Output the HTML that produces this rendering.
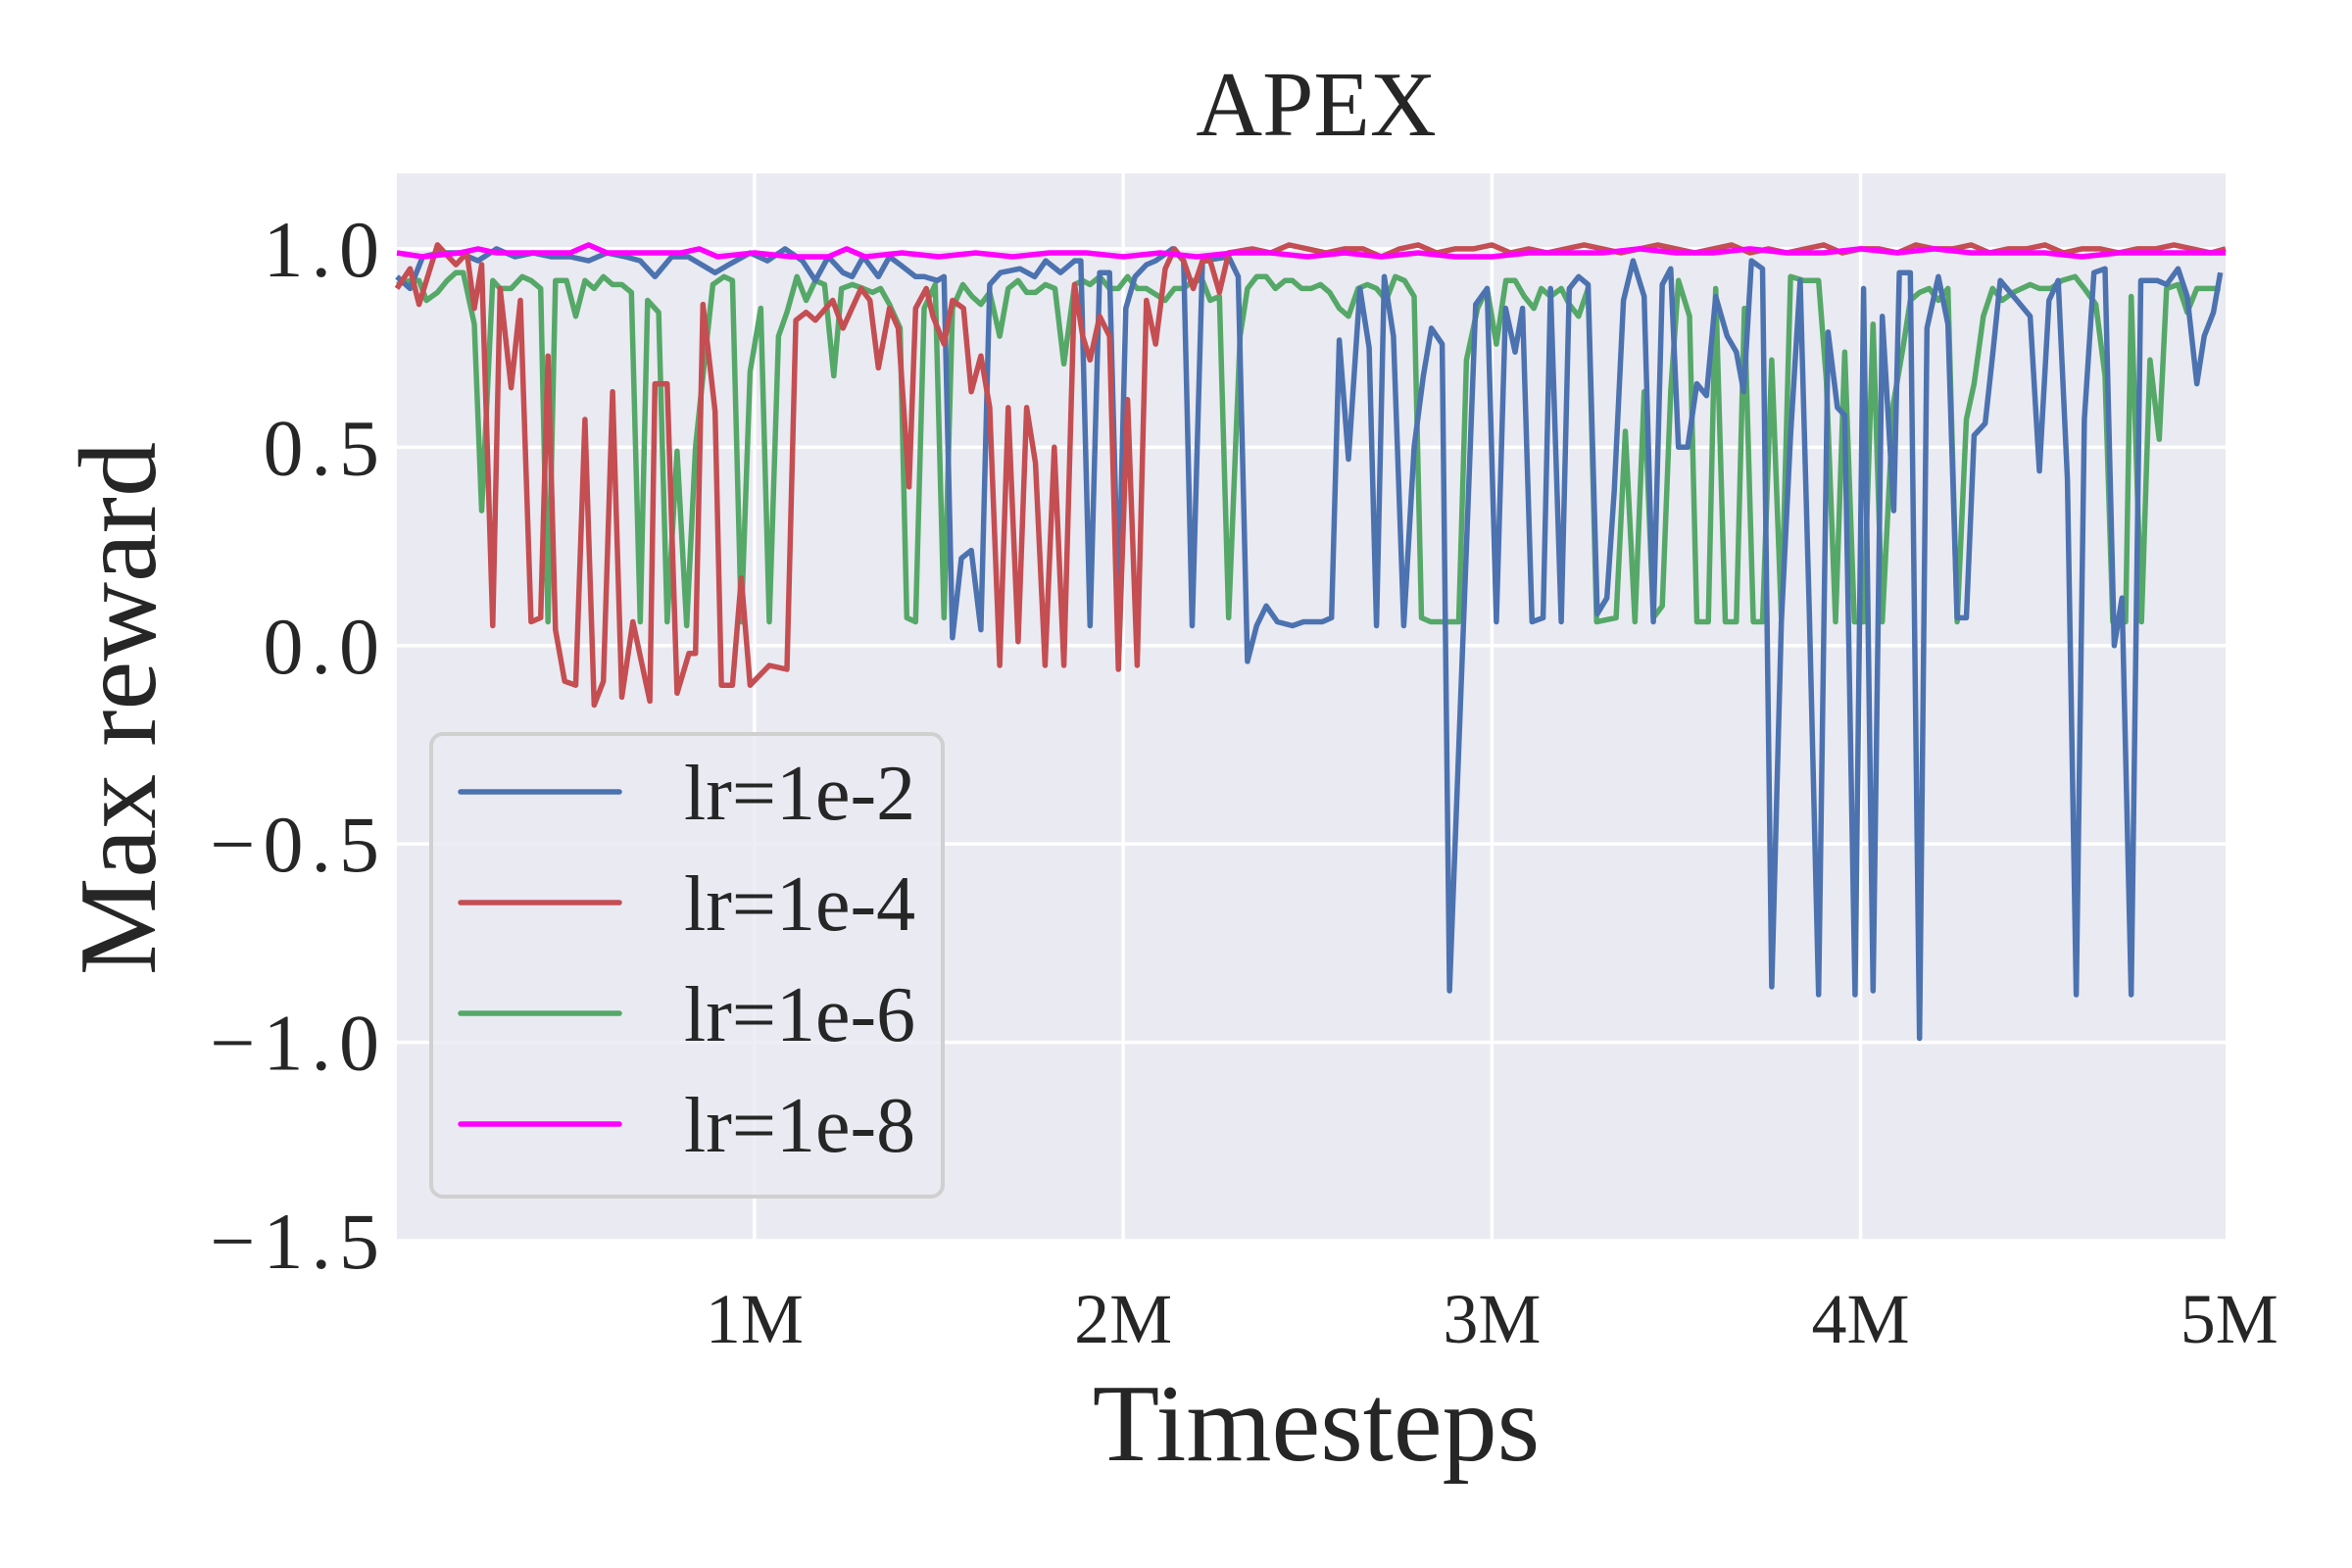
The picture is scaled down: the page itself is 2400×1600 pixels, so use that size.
<!DOCTYPE html>
<html><head><meta charset="utf-8"><style>
html,body{margin:0;padding:0;background:#fff;}
svg{display:block;}
text{font-family:"Liberation Serif","Times New Roman",serif;fill:#262626;}
</style></head>
<body>
<svg id="chart" width="2400" height="1600" viewBox="0 0 2400 1600" xmlns="http://www.w3.org/2000/svg">
<rect x="405" y="177" width="1866" height="1089" fill="#eaeaf2"/>
<g id="grid"></g>
<g id="series"></g>
<g id="ticks"></g>
<text x="1343" y="138" font-size="94" text-anchor="middle">APEX</text>
<text x="1343" y="1490" font-size="112" text-anchor="middle">Timesteps</text>
<text x="0" y="0" font-size="112" text-anchor="middle" transform="translate(158,723) rotate(-90)">Max reward</text>
<g id="legend"></g>
</svg>
<script>
const xTicks=[1,2,3,4,5];
const xTickLabels=["1M","2M","3M","4M","5M"];
const yTicks=[-1.5,-1.0,-0.5,0.0,0.5,1.0];
const yTickLabels=["\u22121.5","\u22121.0","\u22120.5","0.0","0.5","1.0"];
const seriesNames=["lr=1e-2","lr=1e-4","lr=1e-6","lr=1e-8"];
const blueX=[0.03,0.066,0.1,0.15,0.2,0.25,0.3,0.35,0.4,0.45,0.5,0.55,0.6,0.65,0.69,0.73,0.775,0.82,0.893,0.93,0.988,1.035,1.083,1.13,1.165,1.2,1.24,1.265,1.295,1.336,1.366,1.395,1.437,1.46,1.496,1.514,1.537,1.561,1.588,1.614,1.638,1.667,1.72,1.76,1.79,1.83,1.868,1.885,1.91,1.936,1.963,1.987,2.007,2.032,2.063,2.088,2.134,2.164,2.187,2.215,2.286,2.312,2.337,2.362,2.388,2.418,2.459,2.489,2.54,2.565,2.586,2.611,2.642,2.667,2.687,2.708,2.733,2.761,2.789,2.814,2.836,2.865,2.885,2.956,2.987,3.012,3.037,3.063,3.083,3.109,3.139,3.159,3.188,3.21,3.235,3.261,3.286,3.312,3.332,3.357,3.383,3.413,3.438,3.462,3.485,3.506,3.531,3.556,3.582,3.607,3.638,3.663,3.683,3.704,3.734,3.759,3.785,3.81,3.836,3.861,3.886,3.912,3.937,3.957,3.985,4.008,4.034,4.059,4.09,4.105,4.135,4.16,4.18,4.211,4.237,4.262,4.287,4.308,4.338,4.358,4.379,4.424,4.46,4.485,4.511,4.536,4.561,4.585,4.607,4.633,4.663,4.688,4.709,4.734,4.76,4.78,4.805,4.83,4.861,4.886,4.912,4.932,4.957,4.976];
const blueY=[0.93,0.9,0.98,0.99,0.99,0.97,1.0,0.98,0.99,0.98,0.98,0.97,0.99,0.98,0.97,0.93,0.98,0.98,0.94,0.96,0.99,0.97,1.0,0.97,0.92,0.98,0.94,0.93,0.98,0.93,0.98,0.96,0.93,0.93,0.92,0.93,0.02,0.22,0.24,0.04,0.91,0.94,0.95,0.93,0.97,0.94,0.97,0.97,0.05,0.94,0.94,0.1,0.85,0.93,0.96,0.97,1.0,0.97,0.05,0.97,0.98,0.93,-0.04,0.05,0.1,0.06,0.05,0.06,0.06,0.07,0.77,0.47,0.9,0.75,0.05,0.93,0.78,0.05,0.5,0.68,0.8,0.76,-0.87,0.86,0.9,0.06,0.85,0.74,0.85,0.06,0.07,0.9,0.06,0.9,0.93,0.91,0.08,0.12,0.39,0.87,0.97,0.88,0.06,0.91,0.95,0.5,0.5,0.66,0.63,0.88,0.78,0.74,0.64,0.97,0.95,-0.86,0.06,0.53,0.92,0.08,-0.88,0.79,0.6,0.58,-0.88,0.9,-0.87,0.83,0.34,0.94,0.94,-0.99,0.8,0.93,0.81,0.07,0.07,0.53,0.56,0.73,0.92,0.87,0.83,0.44,0.87,0.92,0.42,-0.88,0.57,0.94,0.95,0.0,0.12,-0.88,0.92,0.92,0.92,0.91,0.95,0.88,0.66,0.78,0.84,0.94];
const redX=[0.03,0.066,0.09,0.14,0.19,0.22,0.24,0.26,0.29,0.31,0.34,0.365,0.394,0.42,0.44,0.46,0.485,0.515,0.54,0.565,0.59,0.615,0.64,0.67,0.716,0.73,0.763,0.79,0.822,0.84,0.86,0.893,0.91,0.94,0.964,0.988,1.04,1.088,1.112,1.14,1.165,1.212,1.24,1.289,1.313,1.336,1.366,1.39,1.419,1.437,1.466,1.484,1.514,1.537,1.567,1.588,1.614,1.638,1.665,1.688,1.715,1.738,1.762,1.788,1.813,1.839,1.868,1.89,1.91,1.936,1.963,1.987,2.012,2.038,2.063,2.088,2.114,2.139,2.164,2.19,2.215,2.236,2.261,2.286,2.35,2.4,2.45,2.5,2.55,2.6,2.65,2.7,2.75,2.8,2.85,2.9,2.95,3.0,3.05,3.1,3.15,3.2,3.25,3.3,3.35,3.4,3.45,3.5,3.55,3.6,3.65,3.7,3.75,3.8,3.85,3.9,3.95,4.0,4.05,4.1,4.15,4.2,4.25,4.3,4.35,4.4,4.45,4.5,4.55,4.6,4.65,4.7,4.75,4.8,4.85,4.9,4.95,4.99];
const redY=[0.9,0.95,0.86,1.01,0.96,0.99,0.85,0.96,0.05,0.9,0.65,0.87,0.06,0.07,0.73,0.04,-0.09,-0.1,0.57,-0.15,-0.09,0.64,-0.13,0.06,-0.14,0.66,0.66,-0.12,-0.02,-0.02,0.86,0.59,-0.1,-0.1,0.17,-0.1,-0.05,-0.06,0.82,0.84,0.82,0.87,0.8,0.9,0.87,0.7,0.85,0.8,0.4,0.85,0.9,0.83,0.76,0.87,0.85,0.64,0.73,0.6,-0.05,0.6,0.01,0.6,0.46,-0.05,0.5,-0.05,0.91,0.78,0.72,0.83,0.78,-0.06,0.62,-0.05,0.87,0.76,0.95,1.0,0.97,0.9,0.97,0.97,0.89,0.99,1.0,0.99,1.01,1.0,0.99,1.0,1.0,0.98,1.0,1.01,0.99,1.0,1.0,1.01,0.99,1.0,0.99,1.0,1.01,1.0,0.99,1.0,1.01,1.0,0.99,1.0,1.01,0.99,1.0,0.99,1.0,1.01,0.99,1.0,1.0,0.99,1.01,1.0,1.0,1.01,0.99,1.0,1.0,1.01,0.99,1.0,1.0,0.99,1.0,1.0,1.01,1.0,0.99,1.0];
const greenX=[0.03,0.066,0.09,0.11,0.14,0.166,0.19,0.21,0.24,0.26,0.29,0.31,0.34,0.37,0.394,0.42,0.44,0.46,0.49,0.515,0.54,0.565,0.59,0.615,0.64,0.666,0.69,0.71,0.74,0.763,0.79,0.816,0.84,0.86,0.887,0.917,0.94,0.964,0.988,1.017,1.04,1.065,1.088,1.115,1.14,1.165,1.19,1.215,1.236,1.265,1.295,1.32,1.342,1.366,1.395,1.413,1.437,1.46,1.49,1.514,1.537,1.565,1.59,1.614,1.638,1.665,1.688,1.715,1.738,1.762,1.789,1.815,1.839,1.868,1.89,1.91,1.936,1.963,1.987,2.012,2.038,2.063,2.114,2.139,2.164,2.19,2.215,2.236,2.261,2.286,2.317,2.337,2.362,2.388,2.413,2.439,2.459,2.484,2.51,2.535,2.56,2.586,2.611,2.637,2.662,2.687,2.713,2.738,2.763,2.789,2.809,2.834,2.86,2.885,2.91,2.931,2.961,2.987,3.012,3.038,3.063,3.088,3.114,3.134,3.159,3.188,3.21,3.235,3.261,3.284,3.337,3.362,3.388,3.413,3.438,3.462,3.485,3.506,3.536,3.556,3.587,3.607,3.633,3.663,3.685,3.709,3.734,3.759,3.785,3.81,3.846,3.886,3.907,3.932,3.957,3.983,4.008,4.034,4.059,4.089,4.115,4.135,4.16,4.186,4.211,4.237,4.262,4.287,4.308,4.333,4.358,4.384,4.414,4.46,4.485,4.516,4.546,4.582,4.607,4.638,4.663,4.684,4.719,4.734,4.762,4.785,4.81,4.83,4.861,4.886,4.912,4.976];
const greenY=[0.91,0.92,0.92,0.87,0.89,0.92,0.94,0.94,0.81,0.34,0.92,0.9,0.9,0.93,0.92,0.9,0.06,0.92,0.92,0.83,0.92,0.9,0.93,0.91,0.91,0.89,0.06,0.87,0.84,0.06,0.49,0.05,0.5,0.68,0.91,0.93,0.92,0.06,0.69,0.85,0.06,0.78,0.84,0.93,0.87,0.92,0.91,0.68,0.9,0.91,0.9,0.89,0.9,0.86,0.8,0.07,0.06,0.85,0.91,0.07,0.85,0.91,0.88,0.86,0.89,0.78,0.9,0.92,0.89,0.89,0.91,0.9,0.71,0.91,0.92,0.91,0.93,0.9,0.9,0.93,0.9,0.9,0.87,0.9,0.9,0.92,0.92,0.87,0.88,0.07,0.78,0.9,0.93,0.93,0.9,0.92,0.92,0.9,0.9,0.91,0.89,0.85,0.83,0.9,0.91,0.9,0.87,0.93,0.92,0.88,0.07,0.06,0.06,0.06,0.06,0.72,0.85,0.9,0.76,0.92,0.92,0.88,0.85,0.9,0.88,0.9,0.86,0.83,0.9,0.06,0.07,0.54,0.06,0.64,0.07,0.1,0.64,0.92,0.83,0.06,0.06,0.9,0.06,0.06,0.85,0.06,0.06,0.72,0.07,0.93,0.92,0.92,0.67,0.06,0.74,0.06,0.06,0.81,0.06,0.61,0.75,0.87,0.89,0.9,0.87,0.9,0.06,0.57,0.66,0.83,0.9,0.87,0.89,0.91,0.9,0.9,0.92,0.93,0.9,0.86,0.68,0.06,0.06,0.88,0.06,0.72,0.52,0.9,0.91,0.84,0.9,0.9];
const pinkX=[0.03,0.1,0.2,0.25,0.3,0.4,0.5,0.55,0.6,0.7,0.8,0.85,0.9,1.0,1.1,1.2,1.25,1.3,1.4,1.5,1.6,1.7,1.8,1.9,2.0,2.1,2.2,2.3,2.4,2.5,2.6,2.7,2.8,2.9,3.0,3.1,3.2,3.3,3.4,3.5,3.6,3.7,3.8,3.9,4.0,4.1,4.2,4.3,4.4,4.5,4.6,4.7,4.8,4.9,4.99];
const pinkY=[0.99,0.98,0.99,1.0,0.99,0.99,0.99,1.01,0.99,0.99,0.99,1.0,0.98,0.99,0.98,0.98,1.0,0.98,0.99,0.98,0.99,0.98,0.99,0.99,0.98,0.99,0.98,0.99,0.99,0.98,0.99,0.98,0.99,0.98,0.98,0.99,0.99,0.99,1.0,0.99,0.99,1.0,0.99,0.99,1.0,0.99,1.0,0.99,0.99,0.99,0.98,0.99,0.99,0.99,0.99];
const colors=["#4c72b0","#c44e52","#55a868","#ff00ff"];

const L=405,R=2271,T=177,B=1266,XMIN=0.03,XMAX=4.99,YMIN=-1.5,YMAX=1.19;
const NS="http://www.w3.org/2000/svg";
function sx(v){return L+(v-XMIN)/(XMAX-XMIN)*(R-L);}
function sy(v){return B-(v-YMIN)/(YMAX-YMIN)*(B-T);}
function mk(tag,attrs,parent){const e=document.createElementNS(NS,tag);for(const k in attrs)e.setAttribute(k,attrs[k]);parent.appendChild(e);return e;}
const grid=document.getElementById('grid'),ticks=document.getElementById('ticks'),ser=document.getElementById('series'),leg=document.getElementById('legend');
xTicks.forEach((t,i)=>{
  const l=mk('line',{x1:sx(t),x2:sx(t),y1:T,y2:B,stroke:'#fff','stroke-width':3.5},grid);
  
  
  const tx=mk('text',{x:sx(t),y:1370,'font-size':72,'text-anchor':'middle'},ticks);
  tx.textContent=xTickLabels[i];
  
  
});
yTicks.forEach((t,i)=>{
  const l=mk('line',{x1:L,x2:R,y1:sy(t),y2:sy(t),stroke:'#fff','stroke-width':3.5},grid);
  
  
  const tx=mk('text',{x:395,y:sy(t)+28,'font-size':82,'letter-spacing':8,'text-anchor':'end'},ticks);
  tx.textContent=yTickLabels[i];
  
  
});
const allX=[blueX,redX,greenX,pinkX],allY=[blueY,redY,greenY,pinkY];
const snames=['series-lr-1e-2','series-lr-1e-4','series-lr-1e-6','series-lr-1e-8'];
[2,0,1,3].forEach(k=>{
  const xs=allX[k],ys=allY[k];
  let d='';
  for(let i=0;i<xs.length;i++)d+=(i?'L':'M')+sx(xs[i]).toFixed(1)+' '+sy(ys[i]).toFixed(1);
  const p=mk('path',{d:d,fill:'none',stroke:colors[k],'stroke-width':5.5,'stroke-linejoin':'round'},ser);
  
  
});
const box=mk('rect',{x:440,y:749,width:522,height:472,rx:12,fill:'#eaeaf2','fill-opacity':0.8,stroke:'#d0d0d0','stroke-width':4},leg);


const rows=[808,921,1034,1147];
seriesNames.forEach((n,i)=>{
  const g=mk('g',{},leg);
  
  
  mk('line',{x1:470,x2:632,y1:rows[i],y2:rows[i],stroke:colors[i],'stroke-width':5.5,'stroke-linecap':'round'},g);
  const t=mk('text',{x:698,y:rows[i]+28,'font-size':80},g);
  t.textContent=n;
});
</script>
</body></html>
